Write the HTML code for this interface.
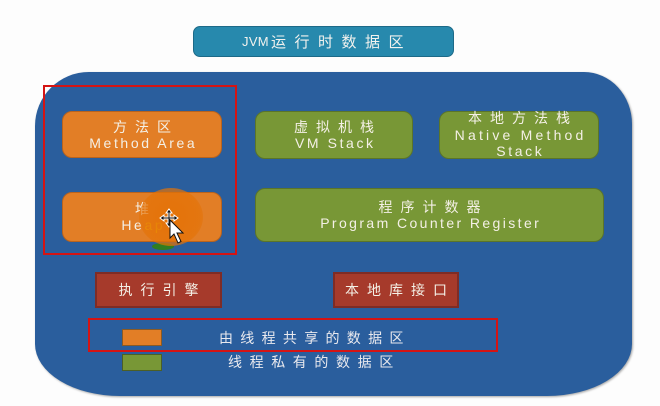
<!DOCTYPE html>
<html><head><meta charset="utf-8">
<style>
html,body{margin:0;padding:0;}
body{width:660px;height:406px;background:#fdfdfd;position:relative;overflow:hidden;font-family:"Liberation Sans","Noto Sans CJK SC",sans-serif;}
.abs{position:absolute;box-sizing:border-box;}
.box{position:absolute;box-sizing:border-box;display:flex;flex-direction:column;align-items:center;justify-content:center;color:#f4f0e6;border-radius:10px;}
.cn{font-family:"Liberation Sans","Noto Sans CJK SC",sans-serif;font-size:14px;letter-spacing:8px;padding-left:8px;line-height:16px;white-space:nowrap;}
.en{font-size:14px;letter-spacing:2.6px;padding-left:2.6px;line-height:16px;white-space:nowrap;}
.org{background:#e27e26;border:1px solid #b9631d;}
.grn{background:#789736;border:1px solid #5b7529;}
.red{background:#a63a2b;border:2px solid #7e2c26;border-radius:0;}
</style></head>
<body>
<!-- title -->
<div class="abs" style="left:193px;top:26px;width:261px;height:31px;background:#2789ad;border:1px solid #1d6a88;border-radius:7px;display:flex;align-items:center;justify-content:center;color:#f2f2ee;">
  <span style="font-size:13px;letter-spacing:0.3px;">JVM</span><span style="font-family:'Liberation Sans','Noto Sans CJK SC',sans-serif;font-size:15px;letter-spacing:8.5px;padding-left:2px;margin-right:-7px;">运行时数据区</span>
</div>

<!-- big blue -->
<div class="abs" style="left:35px;top:72px;width:597px;height:324px;background:#2a5e9d;border-radius:54px 48px 85px 85px / 54px 52px 52px 52px;box-shadow:1px 1px 2px rgba(0,0,0,0.35);"></div>

<!-- red highlight 1 -->
<div class="abs" style="left:43px;top:85px;width:194px;height:170px;border:2px solid #d41414;"></div>

<!-- boxes -->
<div class="box org" style="left:62px;top:111px;width:160px;height:47px;">
  <span class="cn">方法区</span><span class="en">Method Area</span>
</div>
<div class="box grn" style="left:255px;top:111px;width:158px;height:48px;">
  <span class="cn">虚拟机栈</span><span class="en">VM Stack</span>
</div>
<div class="box grn" style="left:439px;top:111px;width:160px;height:48px;">
  <span class="cn" style="line-height:16.5px;">本地方法栈</span><span class="en" style="line-height:16.5px;letter-spacing:3.2px;padding-left:3.2px;">Native Method</span><span class="en" style="line-height:16.5px;">Stack</span>
</div>
<div class="box org" style="left:62px;top:192px;width:160px;height:50px;">
  <span class="cn">堆</span><span class="en">He<span style="color:#f2c20a;">ap</span></span>
</div>
<div class="box grn" style="left:255px;top:188px;width:349px;height:54px;">
  <span class="cn">程序计数器</span><span class="en" style="letter-spacing:2.4px;padding-left:2.4px;">Program Counter Register</span>
</div>

<!-- heap highlight overlay -->
<div class="abs" style="left:152px;top:243px;width:22px;height:7px;border-radius:50%;background:#2f7d22;"></div>
<div class="abs" style="left:139px;top:188px;width:64px;height:58px;border-radius:50%;background:radial-gradient(circle, rgba(228,114,6,0.9) 0%, rgba(228,114,6,0.7) 65%, rgba(228,114,6,0) 100%);"></div>
<svg class="abs" style="left:155px;top:206px;" width="40" height="42" viewBox="0 0 40 42">
  <g stroke="#fff" stroke-width="1" fill="#111">
    <path d="M14 3 L17 7 L15 7 L15 11 L19 11 L19 9 L23 12 L19 15 L19 13 L15 13 L15 17 L17 17 L14 21 L11 17 L13 17 L13 13 L9 13 L9 15 L5 12 L9 9 L9 11 L13 11 L13 7 L11 7 Z"/>
  </g>
  <path d="M15 14 L15 32 L19 28 L23 37 L26 35.5 L22 27 L28 27 Z" fill="#fff" stroke="#111" stroke-width="1"/>
</svg>

<!-- red boxes -->
<div class="box red" style="left:95px;top:272px;width:127px;height:36px;">
  <span class="cn">执行引擎</span>
</div>
<div class="box red" style="left:333px;top:272px;width:126px;height:36px;">
  <span class="cn">本地库接口</span>
</div>

<!-- red highlight 2 -->
<div class="abs" style="left:88px;top:318px;width:410px;height:34px;border:2px solid #d41414;"></div>

<!-- legend -->
<div class="abs" style="left:122px;top:329px;width:40px;height:17px;background:#e27e26;border:1px solid #8a5a24;"></div>
<div class="abs" style="left:122px;top:354px;width:40px;height:17px;background:#789736;border:1px solid #4c5f26;"></div>
<div class="abs" style="left:219px;top:330px;line-height:16px;color:#e9e9ee;"><span class="cn" style="letter-spacing:7.3px;padding-left:0;">由线程共享的数据区</span></div>
<div class="abs" style="left:228px;top:354px;line-height:16px;color:#e9e9ee;"><span class="cn" style="letter-spacing:7.6px;padding-left:0;">线程私有的数据区</span></div>
</body></html>
